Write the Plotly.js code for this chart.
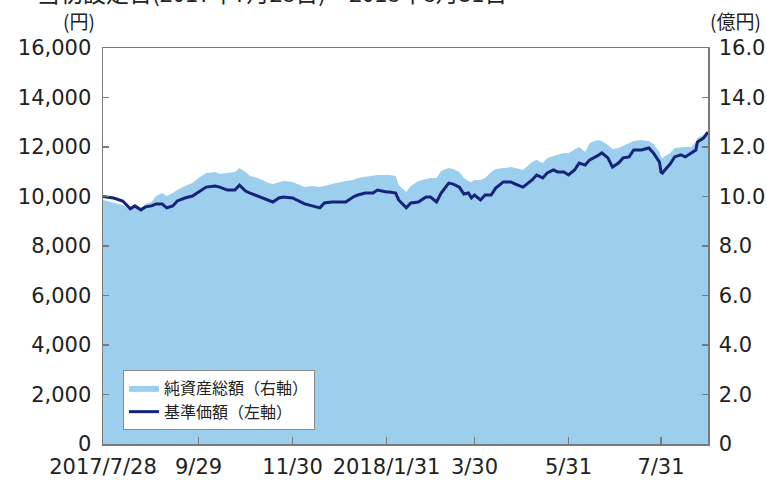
<!DOCTYPE html>
<html><head><meta charset="utf-8">
<script src="https://cdn.plot.ly/plotly-3.0.1.min.js"></script>
<style>html,body{margin:0;padding:0;background:#fff}</style>
</head><body><div id="chart" style="width:767px;height:480px"></div>
<script>
// Dates (sampled trading days)
const dates = [
'2017-07-28','2017-08-04','2017-08-10','2017-08-15','2017-08-18','2017-08-22','2017-08-25','2017-08-29',
'2017-09-01','2017-09-05','2017-09-08','2017-09-12','2017-09-15','2017-09-20','2017-09-25','2017-09-29',
'2017-10-04','2017-10-10','2017-10-13','2017-10-18','2017-10-23','2017-10-26','2017-10-30',
'2017-11-02','2017-11-07','2017-11-10','2017-11-14','2017-11-17','2017-11-21','2017-11-24','2017-11-30',
'2017-12-05','2017-12-08','2017-12-13','2017-12-18','2017-12-21','2017-12-26',
'2018-01-04','2018-01-09','2018-01-12','2018-01-17','2018-01-22','2018-01-25','2018-01-31',
'2018-02-02','2018-02-06','2018-02-08','2018-02-13','2018-02-16','2018-02-21','2018-02-26',
'2018-03-01','2018-03-05','2018-03-08','2018-03-13','2018-03-16','2018-03-20','2018-03-23','2018-03-26','2018-03-28','2018-03-30',
'2018-04-03','2018-04-06','2018-04-10','2018-04-13','2018-04-18','2018-04-23','2018-04-26',
'2018-05-01','2018-05-07','2018-05-10','2018-05-14','2018-05-17','2018-05-21','2018-05-24','2018-05-28','2018-05-31',
'2018-06-04','2018-06-07','2018-06-11','2018-06-14','2018-06-19','2018-06-22','2018-06-26','2018-06-29',
'2018-07-03','2018-07-06','2018-07-10','2018-07-13','2018-07-18','2018-07-23','2018-07-26','2018-07-30','2018-07-31',
'2018-08-01','2018-08-02','2018-08-06','2018-08-09','2018-08-13','2018-08-16','2018-08-20','2018-08-23','2018-08-24','2018-08-28','2018-08-31'
];
// 基準価額 (円, left axis)
const navYen = [
10000,9940,9820,9500,9620,9460,9580,9620,
9700,9700,9540,9620,9820,9940,10020,10180,
10380,10420,10380,10260,10260,10460,10220,
10140,10020,9940,9860,9780,9940,9980,9940,
9780,9700,9620,9540,9740,9780,
9780,9980,10060,10140,10140,10260,10180,
10180,10140,9860,9540,9740,9780,9980,
9980,9780,10140,10540,10500,10380,10100,10140,9940,10060,
9860,10060,10060,10340,10590,10590,10500,
10380,10670,10870,10750,10950,11070,10990,10990,10870,
11070,11350,11270,11480,11640,11760,11560,11190,
11350,11560,11600,11880,11880,11960,11760,11390,10990,
10950,11030,11310,11600,11680,11600,11760,11880,12200,12360,12600
];
// 純資産総額 (億円, right axis)
const netAssetsOku = [
9.86,9.74,9.66,9.45,9.58,9.54,9.70,9.78,
10.02,10.14,10.02,10.14,10.26,10.42,10.55,10.75,
10.95,10.99,10.91,10.95,10.99,11.15,10.99,
10.83,10.75,10.67,10.55,10.51,10.59,10.63,10.59,
10.46,10.38,10.42,10.38,10.42,10.51,
10.63,10.67,10.75,10.79,10.83,10.87,10.87,
10.87,10.83,10.46,10.18,10.42,10.63,10.71,
10.75,10.75,11.03,11.15,11.11,10.99,10.75,10.63,10.59,10.67,
10.67,10.75,10.99,11.11,11.15,11.19,11.15,
11.07,11.39,11.47,11.35,11.56,11.64,11.68,11.76,11.76,
11.88,12.00,11.80,12.16,12.28,12.24,12.08,11.92,
11.96,12.04,12.16,12.24,12.28,12.24,12.12,11.80,11.60,
11.56,11.60,11.76,11.96,12.00,12.00,12.00,12.20,12.36,12.48,12.65
];
const xTickDates = ['2017-07-28','2017-09-29','2017-11-30','2018-01-31','2018-03-30','2018-05-31','2018-07-31'];
const xTickLabels = ['2017/7/28','9/29','11/30','2018/1/31','3/30','5/31','7/31'];
const leftTickVals = [0,2000,4000,6000,8000,10000,12000,14000,16000];
const rightTickVals = [0,2,4,6,8,10,12,14,16];
const rightTickLabels = ['0','2.0','4.0','6.0','8.0','10.0','12.0','14.0','16.0'];
const seriesNames = ['純資産総額（右軸）','基準価額（左軸）'];
const titleText = '当初設定日(2017年7月28日)～2018年8月31日';
const leftUnit = '(円)';
const rightUnit = '(億円)';

const numFont = 'DejaVu Sans, sans-serif';
const jpFont = 'Noto Sans CJK JP, sans-serif';
const axisColor = '#7a7a7a';

const traces = [
  {
    type:'scatter', mode:'lines', x:dates, y:netAssetsOku, name:seriesNames[0],
    fill:'tozeroy', fillcolor:'rgb(156,207,238)', line:{width:0,color:'rgb(156,207,238)'},
    xaxis:'x', yaxis:'y'
  },
  {
    type:'scatter', mode:'lines', x:dates, y:navYen, name:seriesNames[1],
    line:{width:3,color:'#16237a'}, xaxis:'x', yaxis:'y2'
  }
];

const layout = {
  width:767, height:480,
  margin:{l:103, r:59, t:48, b:36},
  paper_bgcolor:'#fff', plot_bgcolor:'#fff',
  showlegend:true,
  legend:{x:0.033, y:0.187, xanchor:'left', yanchor:'top', bgcolor:'#fff',
    bordercolor:'#8a8a8a', borderwidth:1, font:{family:jpFont, size:16, color:'#222'},
    tracegroupgap:0, itemwidth:30},
  xaxis:{type:'date', range:['2017-07-28','2018-08-31'], tickmode:'array',
    tickvals:xTickDates, ticktext:xTickLabels, ticks:'inside', ticklen:7, tickwidth:1.2,
    tickcolor:axisColor, showline:true, linecolor:axisColor, linewidth:1.5, mirror:true,
    showgrid:false, zeroline:false, ticklabelstandoff:3, tickfont:{family:numFont, size:21, color:'#222'}},
  yaxis:{side:'right', range:[0,16], tickmode:'array', tickvals:rightTickVals, ticktext:rightTickLabels,
    ticks:'inside', ticklen:6, tickwidth:1.2, tickcolor:axisColor, showline:true, linecolor:axisColor,
    linewidth:1.5, showgrid:false, zeroline:false, ticklabelstandoff:5,
    tickfont:{family:numFont, size:21, color:'#222'}},
  yaxis2:{overlaying:'y', side:'left', range:[0,16000], tickmode:'array', tickvals:leftTickVals,
    tickformat:',d', ticks:'inside', ticklen:6, tickwidth:1.2, tickcolor:axisColor, showline:true,
    linecolor:axisColor, linewidth:1.5, showgrid:false, zeroline:false, ticklabelstandoff:6,
    tickfont:{family:numFont, size:21, color:'#222'}},
  annotations:[
    {xref:'paper', yref:'paper', x:-0.112, y:1.142, xanchor:'left', yanchor:'middle', showarrow:false,
      text:titleText, font:{family:jpFont, size:23, color:'#222'}},
    {xref:'paper', yref:'paper', x:-0.04, y:1.07, xanchor:'center', yanchor:'middle', showarrow:false,
      text:leftUnit, font:{family:jpFont, size:19, color:'#222'}},
    {xref:'paper', yref:'paper', x:1.045, y:1.07, xanchor:'center', yanchor:'middle', showarrow:false,
      text:rightUnit, font:{family:jpFont, size:19, color:'#222'}}
  ]
};
Plotly.newPlot('chart', traces, layout, {staticPlot:true, displayModeBar:false});
</script>
</body></html>
